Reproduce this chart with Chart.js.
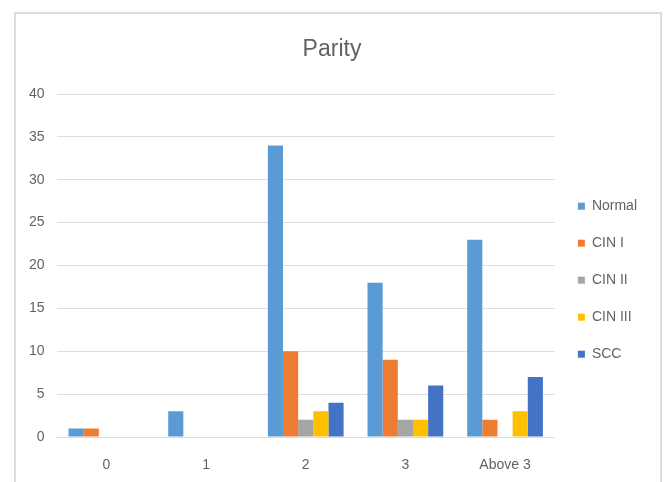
<!DOCTYPE html>
<html>
<head>
<meta charset="utf-8">
<script src="https://cdn.jsdelivr.net/npm/chart.js@4/dist/chart.umd.min.js"></script>
<style>
  html, body { margin: 0; padding: 0; background: #ffffff; }
  #wrap { position: relative; width: 665px; height: 482px; overflow: hidden; }
  #frame {
    position: absolute; left: 14px; top: 12px; width: 648px; height: 520px;
    border: 2px solid #dcdcdc; box-sizing: border-box;
  }
  canvas { position: absolute; left: 0; top: 0; }
</style>
</head>
<body>
<div id="wrap">
  <div id="frame"></div>
  <canvas id="c" width="665" height="482"></canvas>
</div>
<script>
// Parity groups along the x axis
const categories = ['0', '1', '2', '3', 'Above 3'];

// Counts per diagnosis for each parity group
const normal = [1, 3, 34, 18, 23];
const cin1   = [1, 0, 10, 9, 2];
const cin2   = [0, 0, 2, 2, 0];
const cin3   = [0, 0, 3, 2, 3];
const scc    = [0, 0, 4, 6, 7];

const yTicks = [0, 5, 10, 15, 20, 25, 30, 35, 40];

const FONT = '"Liberation Sans", Arial, sans-serif';
const TEXT = '#636363';
const GRID = '#dedede';

const series = [
  { label: 'Normal', data: normal, color: '#5B9BD5' },
  { label: 'CIN I',  data: cin1,   color: '#ED7D31' },
  { label: 'CIN II', data: cin2,   color: '#A5A5A5' },
  { label: 'CIN III', data: cin3,  color: '#FFC000' },
  { label: 'SCC',    data: scc,    color: '#4472C4' }
];

new Chart(document.getElementById('c'), {
  type: 'bar',
  data: {
    labels: categories,
    datasets: series.map(s => ({
      label: s.label,
      data: s.data,
      backgroundColor: s.color,
      borderWidth: 0,
      categoryPercentage: 0.76,
      barPercentage: 1.0
    }))
  },
  options: {
    responsive: false,
    animation: false,
    devicePixelRatio: 1,
    layout: { padding: { top: 36, left: 17, right: 18, bottom: 10 } },
    plugins: {
      title: {
        display: true,
        text: 'Parity',
        color: TEXT,
        font: { family: FONT, size: 23, weight: 'normal' },
        padding: { top: 0, bottom: 30.4 }
      },
      legend: {
        position: 'right',
        align: 'center',
        title: { display: true, text: ' ', font: { size: 12 }, padding: 19 },
        labels: {
          color: TEXT,
          font: { family: FONT, size: 14 },
          boxWidth: 7,
          boxHeight: 7,
          padding: 23
        }
      },
      tooltip: { enabled: false }
    },
    scales: {
      x: {
        afterFit: s => { s.height = 35; },
        grid: { display: false, drawTicks: false },
        border: { display: true, color: GRID, width: 1 },
        ticks: { color: TEXT, font: { family: FONT, size: 14 }, padding: 20, maxRotation: 0 }
      },
      y: {
        min: 0,
        max: 40,
        afterBuildTicks: axis => { axis.ticks = yTicks.map(v => ({ value: v })); },
        grid: { color: GRID, drawTicks: false, lineWidth: 1 },
        border: { display: false },
        ticks: { color: TEXT, font: { family: FONT, size: 14 }, padding: 12 }
      }
    }
  }
});
</script>
</body>
</html>
